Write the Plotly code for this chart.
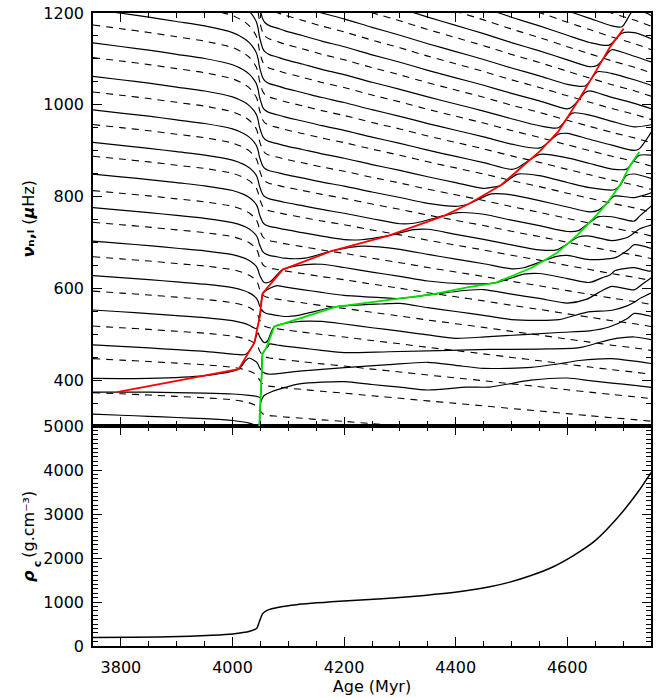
import plotly.graph_objects as go

# ---------------- data ----------------
# common age grid and the relative frequency scaling of the acoustic modes
grid_age = [3750, 3800, 3850, 3900, 3950, 4000, 4020, 4030, 4038, 4043, 4046, 4048, 4050, 4052,
            4054, 4058, 4066, 4080, 4093, 4125, 4160, 4200, 4250, 4300, 4350, 4400, 4450, 4500,
            4550, 4600, 4640, 4680, 4720, 4750]
grid_scale = [1.000, 0.993, 0.986, 0.978, 0.970, 0.958, 0.948, 0.940, 0.930, 0.921, 0.910, 0.898,
              0.890, 0.883, 0.877, 0.871, 0.866, 0.862, 0.858, 0.850, 0.841, 0.832, 0.819, 0.807,
              0.794, 0.782, 0.770, 0.757, 0.745, 0.732, 0.722, 0.712, 0.703, 0.695]

# l=0 (dashed) frequencies at 3750 Myr
radial_nu0 = [303, 373, 447, 518, 594, 669, 744, 813, 888, 957, 1028, 1103, 1174, 1247, 1320,
              1393, 1466, 1539, 1612, 1685]
# l=1 pure p-mode frequencies at 3750 Myr
dipole_nu0 = [326, 404, 477, 553, 628, 703, 776, 849, 918, 989, 1062, 1135, 1208, 1281, 1354,
              1427, 1500, 1573, 1646, 1719]

# g-dominated mode tracks (red and green are drawn)
red_age = [3793, 4011, 4039, 4048, 4054, 4090, 4179, 4280, 4381, 4423, 4480, 4518, 4551, 4584,
           4620, 4652, 4676, 4701]
red_nu = [374, 424, 481, 533, 589, 641, 682, 715, 759, 784, 824, 863, 899, 942, 1010, 1075,
          1125, 1166]
green_age = [4047, 4048, 4054, 4060, 4075, 4185, 4298, 4358, 4423, 4471, 4536, 4581, 4617, 4652,
             4670, 4694, 4712, 4729]
green_nu = [290, 302, 458, 469, 517, 560, 578, 587, 603, 612, 645, 677, 715, 759, 784, 824, 867,
            897]
g3_age = [4050, 4056, 4070, 4093, 4150, 4232, 4320, 4423, 4500, 4560, 4611, 4646, 4677, 4705,
          4730, 4752]
g3_nu = [300, 352, 375, 395, 415, 437, 455, 474, 490, 510, 530, 575, 630, 690, 745, 795]
g4_age = [4380, 4420, 4460, 4500, 4535, 4580, 4622, 4650, 4675, 4700, 4707, 4720, 4733, 4760]
g4_nu = [350, 371, 385, 400, 414, 435, 457, 478, 502, 535, 548, 570, 594, 645]

# avoided crossings: which l=1 p-mode, at what age / frequency
red_cross_order = [2, 3, 4, 5, 6, 7, 8, 9, 10, 11, 12, 13, 14, 15, 16, 17, 18, 19]
red_cross_age = [4023, 4043, 4051, 4068, 4130, 4231, 4325, 4404, 4464, 4511, 4551, 4584, 4609,
                 4632, 4654, 4675, 4698, 4720]
red_cross_nu = [449, 505, 558, 608, 659, 699, 735, 772, 813, 856, 899, 943, 989, 1034, 1079, 1123,
                1163, 1215]
green_cross_order = [0, 1, 2, 3, 4, 5, 6, 7, 8, 9, 10, 11, 12, 13, 14]
green_cross_age = [4047, 4050, 4052.5, 4063, 4120, 4265, 4420, 4522, 4581, 4620, 4655, 4684, 4706,
                   4729, 4752]
green_cross_nu = [294, 355, 420, 479, 535, 573, 603, 638, 677, 719, 763, 808, 853, 897, 950]
g3_cross_order = [1, 2, 3, 4, 5, 6, 7, 8, 9, 10, 11]
g3_cross_age = [4056, 4120, 4280, 4460, 4585, 4634, 4662, 4686, 4709, 4730, 4752]
g3_cross_nu = [352, 406, 448, 481, 518, 562, 609, 653, 698, 744, 795]
g4_cross_order = [2, 3, 4, 5, 6, 7, 8]
g4_cross_age = [4420, 4535, 4622, 4675, 4707, 4733, 4760]
g4_cross_nu = [371, 414, 457, 502, 548, 594, 645]
# half-gap of each avoided crossing (muHz)
red_gap, green_gap, g3_gap, g4_gap = 7, 7, 14, 14

# two low-frequency mixed modes before the hook
low_mode_age = [3750, 3850, 3950, 4000, 4030, 4043, 4046]
low_mode_nu = [374, 374, 372, 370, 367, 365, 364]
rise_mode_age = [3750, 3850, 3950]
rise_mode_nu = [404, 404, 410]

# central density
rho_age = [3750, 3886, 3963, 4000, 4031, 4043, 4048, 4054, 4062, 4085, 4115, 4192, 4268, 4344,
           4402, 4459, 4497, 4535, 4573, 4611, 4650, 4688, 4726, 4750]
rho_c = [192, 208, 245, 275, 336, 396, 547, 736, 811, 887, 940, 1015, 1075, 1151, 1226, 1340,
         1453, 1604, 1792, 2057, 2396, 2887, 3491, 3944]


# ---------------- build mode lines ----------------
def mk(age, nu, order, cage, cnu, gap):
    return dict(age=age, nu=nu, gap=gap,
                cross={o: (a, v) for o, a, v in zip(order, cage, cnu)})


RED = mk(red_age, red_nu, red_cross_order, red_cross_age, red_cross_nu, red_gap)
GREEN = mk(green_age, green_nu, green_cross_order, green_cross_age, green_cross_nu, green_gap)
G3 = mk(g3_age, g3_nu, g3_cross_order, g3_cross_age, g3_cross_nu, g3_gap)
G4 = mk(g4_age, g4_nu, g4_cross_order, g4_cross_age, g4_cross_nu, g4_gap)
TRACKS = [RED, GREEN, G3, G4]


def slope(ages, vals, t):
    for j in range(len(ages) - 1):
        if ages[j] <= t <= ages[j + 1]:
            return (vals[j + 1] - vals[j]) / (ages[j + 1] - ages[j])
    return (vals[-1] - vals[-2]) / (ages[-1] - ages[-2])


def window(trk, i, t):
    sg = slope(trk['age'], trk['nu'], t)
    sp = slope(grid_age, [dipole_nu0[i] * s for s in grid_scale], t)
    return 1.5 * trk['gap'] / max(abs(sg - sp), 0.05)


def walk(pts, i, t0, skip_until=None):
    skip_until = t0 if skip_until is None else skip_until
    while True:
        best = None
        for trk in TRACKS:
            c = trk['cross'].get(i)
            if c is not None and c[0] > t0 and (best is None or c[0] < best[1][0]):
                best = (trk, c)
        if best is None:
            t_end = 1e9
        else:
            t_end = best[1][0] - window(best[0], i, best[1][0])
        for a, s in zip(grid_age, grid_scale):
            if skip_until < a < t_end:
                pts.append((a, dipole_nu0[i] * s))
        if best is None:
            return pts
        trk, c = best
        wa = window(trk, i, c[0])
        pts.append((c[0], c[1] + trk['gap']))
        nxt = trk['cross'].get(i + 1)
        if nxt is None:
            return pts
        wb = window(trk, i + 1, nxt[0])
        for a, v in zip(trk['age'], trk['nu']):
            if c[0] + wa < a < nxt[0] - wb:
                pts.append((a, v))
        pts.append((nxt[0], nxt[1] - trk['gap']))
        i += 1
        t0 = nxt[0]
        skip_until = nxt[0] + wb


modes = []
modes.append(walk([], 0, 3700))
modes.append(walk(list(zip(low_mode_age, low_mode_nu)), 1, 4046))
pc = list(zip(rise_mode_age, rise_mode_nu))
for a, v in zip(red_age, red_nu):
    if 3950 < a < RED['cross'][2][0]:
        pc.append((a, v))
pc.append((RED['cross'][2][0], RED['cross'][2][1] - RED['gap']))
modes.append(walk(pc, 2, RED['cross'][2][0], RED['cross'][2][0] + window(RED, 2, RED['cross'][2][0])))
for i in range(2, len(dipole_nu0)):
    modes.append(walk([], i, 3700))

# ---------------- figure ----------------
fig = go.Figure()
FONT = 'DejaVu Sans'

for b in radial_nu0:
    fig.add_trace(go.Scatter(x=grid_age, y=[b * s for s in grid_scale], mode='lines',
                             line=dict(color='black', width=1.1, dash='7px,6px',
                                       shape='spline', smoothing=0.6),
                             xaxis='x2', yaxis='y2', hoverinfo='skip'))
for m in modes:
    fig.add_trace(go.Scatter(x=[p[0] for p in m], y=[p[1] for p in m], mode='lines',
                             line=dict(color='black', width=1.2, shape='spline', smoothing=0.7),
                             xaxis='x2', yaxis='y2', hoverinfo='skip'))
fig.add_trace(go.Scatter(x=red_age, y=red_nu, mode='lines',
                         line=dict(color='#ff0000', width=1.8), xaxis='x2', yaxis='y2'))
fig.add_trace(go.Scatter(x=green_age, y=green_nu, mode='lines',
                         line=dict(color='#00e000', width=1.8), xaxis='x2', yaxis='y2'))

fig.add_trace(go.Scatter(x=rho_age, y=rho_c, mode='lines',
                         line=dict(color='black', width=1.5, shape='spline', smoothing=0.6),
                         xaxis='x', yaxis='y'))

split = (646 - 423) / 642.0
axis_common = dict(showline=True, linecolor='black', linewidth=1.6, mirror='allticks',
                   ticks='inside', ticklen=9, tickwidth=1.3, tickcolor='black',
                   showgrid=False, zeroline=False,
                   tickfont=dict(family=FONT, size=16, color='black'))
minor_x = dict(ticks='inside', ticklen=5, tickwidth=1, tickcolor='black', dtick=50)
title_font = dict(family=FONT, size=16, color='black')
sub_font = dict(family=FONT, size=11, color='black')


def ann(text, px, py, font):
    return dict(text=text, textangle=-90, xref='paper', yref='paper',
                x=(px - 93) / 558.0, y=(646 - py) / 642.0, showarrow=False,
                xanchor='center', yanchor='middle', font=font)


fig.update_layout(
    width=665, height=698,
    margin=dict(l=93, r=14, t=4, b=52),
    paper_bgcolor='white', plot_bgcolor='white',
    showlegend=False,
    xaxis=dict(domain=[0, 1], anchor='y', range=[3750, 4750], tick0=3800, dtick=200,
               minor=minor_x, ticklabelstandoff=6,
               title=dict(text='Age (Myr)', font=title_font, standoff=4), **axis_common),
    xaxis2=dict(domain=[0, 1], anchor='y2', range=[3750, 4750], tick0=3800, dtick=200,
                matches='x', showticklabels=False, minor=minor_x, **axis_common),
    yaxis=dict(domain=[0, split], anchor='x', range=[0, 5000], tick0=0, dtick=1000,
               minor=dict(ticks='inside', ticklen=5, tickwidth=1, tickcolor='black', dtick=100),
               ticklabelstandoff=4, **axis_common),
    yaxis2=dict(domain=[split, 1], anchor='x2', range=[300, 1200], tick0=400, dtick=200,
                minor=dict(ticks='inside', ticklen=5, tickwidth=1, tickcolor='black', dtick=50),
                ticklabelstandoff=4, **axis_common),
    annotations=[
        ann('<b><i>ν</i>ₙ,ₗ</b> (<b><i>μ</i></b>Hz)', 28.5, 213, title_font),
        ann('<b><i>ρ</i></b>', 29, 575, title_font),
        ann('<b>c</b>', 37, 563, sub_font),
        ann('(g.cm⁻³)', 29, 523, title_font),
    ],
)

fig.write_html('out.html')
